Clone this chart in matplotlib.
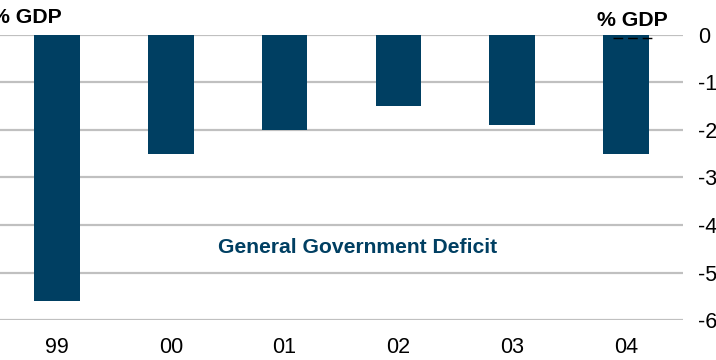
import numpy as np
import matplotlib
matplotlib.use("Agg")
import matplotlib.pyplot as plt

# ---------------- DATA ----------------
years = ["99", "00", "01", "02", "03", "04"]
deficit = [-5.6, -2.5, -2.0, -1.5, -1.9, -2.5]
yticks = [0, -1, -2, -3, -4, -5, -6]

navy = "#003f62"
grid_col = "#c0c0c0"

plt.rcParams["font.family"] = ["Liberation Sans", "DejaVu Sans"]
plt.rcParams["axes.unicode_minus"] = False

fig = plt.figure(figsize=(7.16, 3.6), dpi=100)
ax = fig.add_axes([0.0, 0.111, 683 / 716, 0.792])

x = np.arange(len(years))
ax.bar(x, deficit, width=0.4, color=navy, zorder=2)

# small dashed marker across the last bar at zero
ax.plot([x[-1] - 0.114, x[-1] + 0.23], [-0.063, -0.063], color="black",
        lw=1, ls=(0, (7, 3.5)), zorder=3)

ax.set_xlim(-0.5, len(years) - 0.5)
ax.set_ylim(-6, 0)
ax.set_yticks(yticks)
ax.set_yticklabels([str(v) for v in yticks])
ax.yaxis.tick_right()
ax.tick_params(axis="y", length=0, pad=11, labelsize=15.5)
ax.set_xticks(x)
ax.set_xticklabels(years)
ax.tick_params(axis="x", length=0, pad=12, labelsize=15.5)

ax.grid(axis="y", color=grid_col, lw=1.6, zorder=1)
for s in ax.spines.values():
    s.set_visible(False)

ax.text(0.524, 0.256, "General Government Deficit", transform=ax.transAxes,
        ha="center", va="center", color=navy, fontsize=15.2, fontweight="bold")

fig.text(62 / 716, 0.952, "% GDP", ha="right", va="center", fontsize=15.3,
         fontweight="bold")
fig.text(632.5 / 716, 0.943, "% GDP", ha="center", va="center", fontsize=15.3,
         fontweight="bold")

fig.savefig("out.png", dpi=100)
